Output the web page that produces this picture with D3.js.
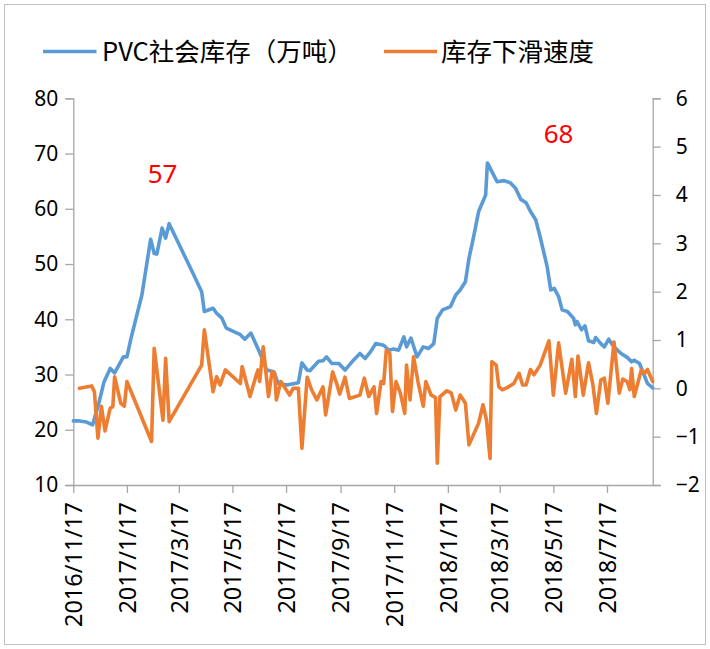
<!DOCTYPE html>
<html>
<head>
<meta charset="utf-8">
<script src="https://cdn.jsdelivr.net/npm/d3@7"></script>
<style>
  body { margin: 0; background: #fff; }
</style>
</head>
<body>
<script>
// ------------  DATA  ------------
const stockDates = ["2016-11-17","2016-11-24","2016-12-02","2016-12-09","2016-12-16","2016-12-22","2016-12-29","2017-01-03","2017-01-13","2017-01-17",
  "2017-01-22","2017-02-03","2017-02-13","2017-02-17","2017-02-20","2017-02-26","2017-03-02","2017-03-06","2017-04-04","2017-04-12",
  "2017-04-15","2017-04-25","2017-04-29","2017-05-05","2017-05-10","2017-05-26","2017-05-31","2017-06-07","2017-06-15","2017-06-19",
  "2017-06-25","2017-07-03","2017-07-08","2017-07-18","2017-07-31","2017-08-04","2017-08-10","2017-08-13","2017-08-23","2017-08-28",
  "2017-09-01","2017-09-07","2017-09-15","2017-09-22","2017-09-30","2017-10-09","2017-10-15","2017-10-21","2017-10-27","2017-11-05",
  "2017-11-11","2017-11-16","2017-11-22","2017-11-28","2017-12-01","2017-12-06","2017-12-13","2017-12-20","2017-12-26","2018-01-01",
  "2018-01-05","2018-01-11","2018-01-20","2018-01-26","2018-01-31","2018-02-06","2018-02-10","2018-02-15","2018-02-21","2018-03-01",
  "2018-03-03","2018-03-14","2018-03-22","2018-03-29","2018-04-04","2018-04-10","2018-04-16","2018-04-21","2018-04-27","2018-05-02",
  "2018-05-10","2018-05-14","2018-05-18","2018-05-23","2018-05-27","2018-06-02","2018-06-09","2018-06-11","2018-06-13","2018-06-18",
  "2018-06-22","2018-06-26","2018-07-02","2018-07-04","2018-07-10","2018-07-14","2018-07-19","2018-07-25","2018-08-02","2018-08-09",
  "2018-08-14","2018-08-17","2018-08-23","2018-09-01","2018-09-07"];
const stockValues = [21.6,21.6,21.4,20.9,24.8,28.7,31.1,30.3,33.2,33.2,
  36.8,44.4,54.5,51.9,51.8,56.5,54.7,57.3,47.7,45.0,
  41.4,42.0,41.1,40.2,38.4,37.2,36.4,37.5,34.7,33.2,
  30.8,30.5,28.4,28.1,28.5,32.1,30.8,30.7,32.4,32.5,
  33.2,32.0,32.0,30.8,32.3,33.8,32.9,34.1,35.6,35.3,
  34.4,34.6,34.4,36.8,35.0,36.6,33.2,35.0,34.7,35.6,
  40.2,41.7,42.3,44.4,45.3,46.8,51.0,54.7,59.5,62.5,
  68.3,64.9,65.1,64.7,63.7,61.7,61.1,59.5,58.0,54.9,
  49.5,45.3,45.6,44.1,41.7,41.4,40.2,39.0,39.6,38.1,
  38.8,36.1,35.8,36.7,35.6,35.0,36.4,35.0,33.8,33.1,
  32.3,32.6,32.0,28.4,27.6];

const speedDates = ["2016-11-24","2016-12-08","2016-12-11","2016-12-15","2016-12-19","2016-12-23","2016-12-29","2017-01-01","2017-01-03","2017-01-10",
  "2017-01-14","2017-01-17","2017-02-14","2017-02-17","2017-02-27","2017-03-02","2017-03-06","2017-04-12","2017-04-15","2017-04-25",
  "2017-04-29","2017-05-03","2017-05-09","2017-05-26","2017-05-28","2017-06-06","2017-06-12","2017-06-15","2017-06-17","2017-06-21",
  "2017-06-27","2017-07-01","2017-07-04","2017-07-06","2017-07-11","2017-07-16","2017-07-21","2017-07-25","2017-07-31","2017-08-04",
  "2017-08-10","2017-08-15","2017-08-21","2017-08-28","2017-08-31","2017-09-08","2017-09-13","2017-09-16","2017-09-22","2017-09-27",
  "2017-10-09","2017-10-14","2017-10-19","2017-10-25","2017-10-28","2017-11-02","2017-11-05","2017-11-08","2017-11-12","2017-11-15",
  "2017-11-19","2017-11-24","2017-11-29","2017-12-01","2017-12-05","2017-12-09","2017-12-14","2017-12-20","2017-12-23","2017-12-29",
  "2018-01-03","2018-01-05","2018-01-08","2018-01-16","2018-01-21","2018-01-26","2018-01-31","2018-02-06","2018-02-10","2018-02-21",
  "2018-02-26","2018-03-02","2018-03-06","2018-03-08","2018-03-13","2018-03-16","2018-03-20","2018-03-26","2018-04-02","2018-04-08",
  "2018-04-12","2018-04-16","2018-04-21","2018-04-25","2018-05-02","2018-05-12","2018-05-17","2018-05-23","2018-05-31","2018-06-07",
  "2018-06-11","2018-06-14","2018-06-20","2018-06-26","2018-07-01","2018-07-05","2018-07-10","2018-07-14","2018-07-18","2018-07-25",
  "2018-07-31","2018-08-04","2018-08-09","2018-08-12","2018-08-14","2018-08-17","2018-08-25","2018-08-29","2018-09-01","2018-09-07"];
const speedValues = [0.00,0.05,-0.07,-1.03,-0.37,-0.88,-0.41,-0.38,0.24,-0.31,
  -0.37,0.14,-1.10,0.83,-0.66,0.62,-0.69,0.48,1.21,-0.07,
  0.24,0.07,0.38,0.10,0.45,-0.17,0.21,0.38,0.14,0.86,
  -0.17,0.34,0.31,-0.24,0.14,0.00,-0.14,0.00,0.00,-1.24,
  0.23,-0.03,-0.24,0.03,-0.55,0.34,0.07,-0.12,0.23,-0.21,
  -0.14,0.21,-0.17,0.03,-0.52,0.14,0.10,0.79,0.72,-0.48,
  0.14,-0.10,-0.52,0.48,-0.24,0.65,0.14,-0.37,0.14,-0.14,
  -0.19,-1.55,-0.17,-0.05,-0.10,-0.45,-0.14,-0.31,-1.17,-0.72,
  -0.34,-0.66,-1.45,0.55,0.48,0.03,-0.03,0.02,0.10,0.31,
  0.07,0.07,0.39,0.28,0.48,0.98,-0.14,0.94,-0.10,0.60,
  -0.17,0.67,-0.14,0.53,0.07,-0.52,0.17,0.21,-0.31,0.96,
  -0.10,0.19,0.14,-0.03,0.41,-0.17,0.38,0.31,0.39,0.14];

const xTickLabels = ["2016/11/17","2017/1/17","2017/3/17","2017/5/17","2017/7/17","2017/9/17",
  "2017/11/17","2018/1/17","2018/3/17","2018/5/17","2018/7/17"];
const leftTicks = [10,20,30,40,50,60,70,80];
const rightTicks = [-2,-1,0,1,2,3,4,5,6];
const seriesNames = ["PVC社会库存（万吨）","库存下滑速度"];
const peakLabels = ["57","68"];

// ------------  PARAMETERS  ------------
const svgWidth = 710, svgHeight = 649;
const plot = {left:73.3, right:652.7, top:98.3, bottom:485};
const blue = "#5b9bd5", orange = "#ed7d31", axisColor = "#a6a6a6";
const numFont = "'Noto Sans', 'Open Sans', sans-serif";
const cjkFont = "'Noto Sans CJK SC', 'Noto Sans', sans-serif";
const peakPos = [[162.5, 183], [558.5, 143]]; // label centre x, baseline y

const parse = d3.timeParse("%Y-%m-%d");
const parseTick = d3.timeParse("%Y/%m/%d");

const stock = stockDates.map((d,i) => ({date:parse(d), value:stockValues[i]}));
const speed = speedDates.map((d,i) => ({date:parse(d), value:speedValues[i]}));

// ------------  SCALES  ------------
const x = d3.scaleTime().domain([parse("2016-11-17"), parse("2018-09-07")]).range([plot.left, plot.right]);
const yL = d3.scaleLinear().domain([10,80]).range([plot.bottom, plot.top]);
const yR = d3.scaleLinear().domain([-2,6]).range([plot.bottom, plot.top]);

const svg = d3.select("body").append("svg").attr("width", svgWidth).attr("height", svgHeight);

svg.append("rect")
  .attr("x",4.5).attr("y",4.5).attr("width",701).attr("height",640)
  .attr("fill","#fff").attr("stroke","#bfbfbf").attr("stroke-width",1);

// ------------  AXES  ------------
const gx = svg.append("g")
  .attr("transform","translate(0,"+plot.bottom+")")
  .call(d3.axisBottom(x).tickValues(xTickLabels.map(parseTick)).tickSize(8).tickSizeOuter(0)
    .tickFormat((d,i) => xTickLabels[i]));
gx.selectAll("text")
  .attr("transform","rotate(-90)")
  .attr("x",-17).attr("y",0).attr("dy","0.35em")
  .attr("text-anchor","end")
  .style("font-size","23.5px");

const gl = svg.append("g")
  .attr("transform","translate("+plot.left+",0)")
  .call(d3.axisLeft(yL).tickValues(leftTicks).tickSize(8).tickSizeOuter(8).tickPadding(7));
gl.selectAll("text").style("font-size","21px");

const gr = svg.append("g")
  .attr("transform","translate("+plot.right+",0)")
  .call(d3.axisRight(yR).tickValues(rightTicks).tickSize(8).tickSizeOuter(8).tickPadding(15));
gr.selectAll("text").style("font-size","21px");

[gx, gl, gr].forEach(g => {
  g.selectAll("path, line").attr("stroke", axisColor).attr("stroke-width",1.3);
  g.selectAll("text").attr("fill","#000").style("font-family", numFont);
});

// ------------  LINES  ------------
const lineL = d3.line().x(d => x(d.date)).y(d => yL(d.value));
const lineR = d3.line().x(d => x(d.date)).y(d => yR(d.value));

svg.append("path").datum(stock)
  .attr("d", lineL).attr("fill","none").attr("stroke", blue)
  .attr("stroke-width",3.6).attr("stroke-linejoin","round").attr("stroke-linecap","round");

svg.append("path").datum(speed)
  .attr("d", lineR).attr("fill","none").attr("stroke", orange)
  .attr("stroke-width",3.6).attr("stroke-linejoin","round").attr("stroke-linecap","round");

// ------------  PEAK LABELS  ------------
svg.selectAll(".peak").data(peakLabels).enter().append("text")
  .attr("class","peak")
  .attr("x", (d,i) => peakPos[i][0])
  .attr("y", (d,i) => peakPos[i][1])
  .attr("text-anchor","middle")
  .attr("fill","#ff0000")
  .style("font-family", numFont).style("font-size","26px")
  .text(d => d);

// ------------  LEGEND  ------------
const legendX = [[43, 96.5, 102], [384, 437, 441]];
const legendY = 51.5;
const legend = svg.append("g");
seriesNames.forEach((name,i) => {
  legend.append("line")
    .attr("x1", legendX[i][0]).attr("x2", legendX[i][1])
    .attr("y1", legendY).attr("y2", legendY)
    .attr("stroke", i == 0 ? blue : orange).attr("stroke-width",3.6);
  legend.append("text")
    .attr("x", legendX[i][2]).attr("y", legendY).attr("dy","0.36em")
    .style("font-family", cjkFont).style("font-size","25.5px")
    .attr("fill","#000")
    .text(name);
});
</script>
</body>
</html>
